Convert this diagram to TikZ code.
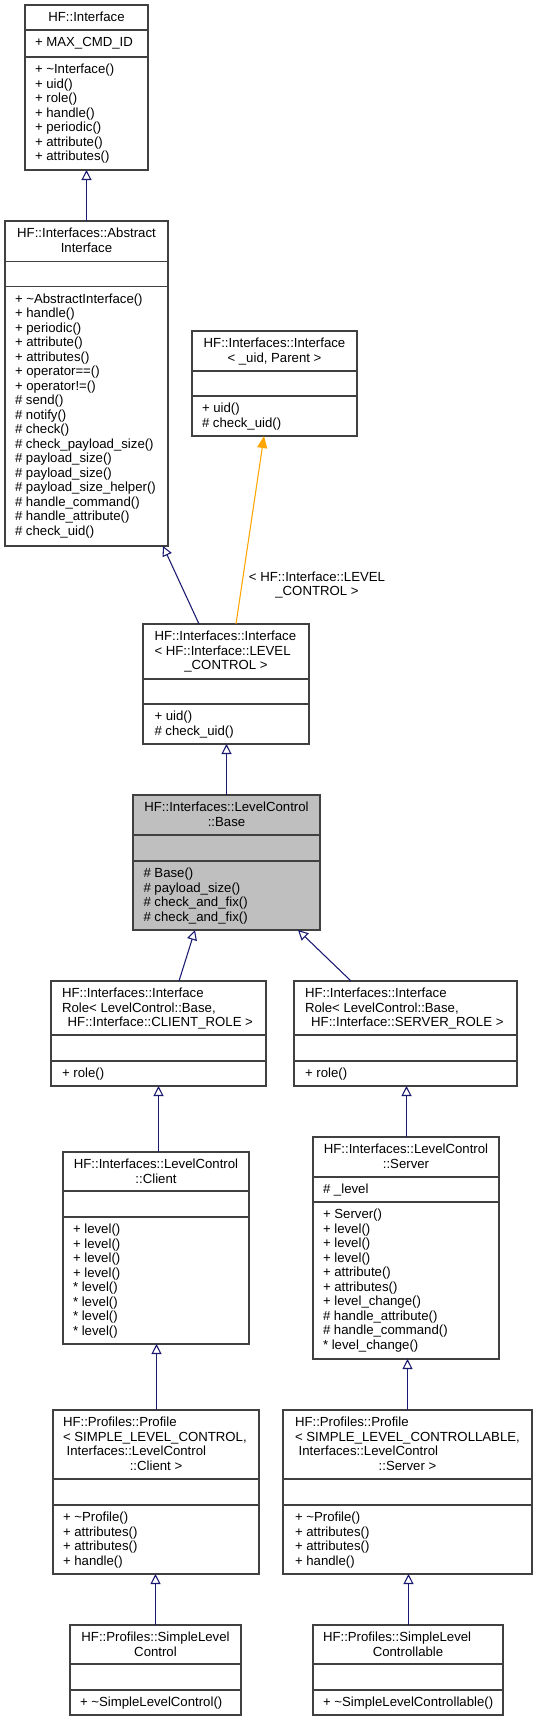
\documentclass[tikz,border=0pt]{standalone}
\usepackage{fontspec}
\setmainfont{Liberation Sans}
\usetikzlibrary{fit,arrows.meta,calc}
\definecolor{navyline}{HTML}{191970}
\definecolor{orangeline}{HTML}{FFA500}
\definecolor{basefill}{HTML}{BFBFBF}
\definecolor{boxline}{HTML}{404040}
\tikzset{
 cls/.style={draw=boxline, line width=1.1pt, fill=white, inner sep=0pt, outer sep=0pt, rectangle},
 grayfill/.style={fill=basefill},
 div/.style={draw=boxline, line width=1.1pt},
 txt/.style={inner sep=0pt, outer sep=0pt, font=\fontsize{9.9pt}{10.9pt}\selectfont, text=black},
 inh/.style={draw=navyline, line width=0.8pt, -{Triangle[length=7.5pt, width=7.5pt, fill=white]}},
 tmplarrow/.style={draw=orangeline, line width=0.8pt, -{Triangle[length=9pt, width=7.5pt]}},
}
\newcommand\Cls[8]{\node[cls,#8,fit={(#2,#4)(#3,#7)}] (#1) {};
 \draw[div] (#2,#5)--(#3,#5) (#2,#6)--(#3,#6);}
\newcommand\Lft[4]{\foreach \t [count=\i from 0] in {#4}{\node[txt,anchor=base west] (#1\i) at (#2,{#3+14.5*\i}) {\t};}}
\newcommand\Ctr[4]{\foreach \t [count=\i from 0] in {#4}{\node[txt,anchor=base] (#1\i) at (#2,{#3+14.5*\i}) {\t};}}
\begin{document}
\begin{tikzpicture}[x=0.75pt,y=-0.75pt]
\useasboundingbox (0,0) rectangle (537,1721);
% HF::Interface
\Cls{iface}{25}{148}{5}{30}{57}{170}{}
\Ctr{ifacet}{86.5}{21.5}{HF::Interface}
\Lft{ifacea}{35}{46.5}{+ MAX\_CMD\_ID}
\Lft{ifacem}{35}{73.5}{+ \textasciitilde Interface(),+ uid(),+ role(),+ handle(),+ periodic(),+ attribute(),+ attributes()}
% AbstractInterface
\Cls{abs}{5}{168}{221}{261.5}{286.5}{546}{}
\Ctr{abst}{86.5}{237.5}{HF::Interfaces::Abstract,Interface}
\Lft{absm}{15}{303}{+ \textasciitilde AbstractInterface(),+ handle(),+ periodic(),+ attribute(),+ attributes(),+ operator==(),+ operator!=(),\# send(),\# notify(),\# check(),\# check\_payload\_size(),\# payload\_size(),\# payload\_size(),\# payload\_size\_helper(),\# handle\_command(),\# handle\_attribute(),\# check\_uid()}
% Interface< _uid, Parent >
\Cls{tmpl}{192}{357}{331}{371}{396}{436}{}
\Ctr{tmplt}{274.5}{347.5}{HF::Interfaces::Interface,{< \_uid, Parent >}}
\Lft{tmplm}{202}{412.5}{+ uid(),\# check\_uid()}
% Interface< LEVEL_CONTROL >
\Cls{lvl}{143}{309}{624}{679}{704}{744}{}
\Lft{lvlt}{154.5}{640.5}{HF::Interfaces::Interface,< HF::Interface::LEVEL}
\Ctr{lvlc}{226}{669.5}{\_CONTROL >}
\Lft{lvlm}{154.5}{720.5}{+ uid(),\# check\_uid()}
% LevelControl::Base
\Cls{base}{133}{320}{795}{835}{861}{930}{grayfill}
\Ctr{baset}{226.5}{811.5}{HF::Interfaces::LevelControl,::Base}
\Lft{basem}{143.5}{877.5}{\# Base(),\# payload\_size(),\# check\_and\_fix(),\# check\_and\_fix()}
% client role
\Cls{crole}{51}{266}{981}{1035}{1061}{1086}{}
\Lft{crolet}{62}{997.5}{HF::Interfaces::Interface,{Role< LevelControl::Base,}}
\Ctr{crolec}{158.5}{1026.5}{\ HF::Interface::CLIENT\_ROLE >}
\Lft{crolem}{62}{1077.5}{+ role()}
% server role
\Cls{srole}{294}{517}{981}{1035}{1061}{1086}{}
\Lft{sroletl}{305}{997.5}{HF::Interfaces::Interface,{Role< LevelControl::Base,}}
\Ctr{srolec}{405.5}{1026.5}{\ HF::Interface::SERVER\_ROLE >}
\Lft{srolem}{305}{1077.5}{+ role()}
% client
\Cls{client}{63}{249}{1152}{1191}{1217}{1344}{}
\Ctr{clientt}{156}{1168.5}{HF::Interfaces::LevelControl,::Client}
\Lft{clientm}{73}{1233.5}{+ level(),+ level(),+ level(),+ level(),* level(),* level(),* level(),* level()}
% server
\Cls{server}{313}{499}{1137}{1177}{1202}{1359}{}
\Ctr{servert}{406}{1153.5}{HF::Interfaces::LevelControl,::Server}
\Lft{servera}{323}{1193.5}{\# \_level}
\Lft{serverm}{323}{1218.5}{+ Server(),+ level(),+ level(),+ level(),+ attribute(),+ attributes(),+ level\_change(),\# handle\_attribute(),\# handle\_command(),* level\_change()}
% profile client
\Cls{pclient}{53}{259}{1410}{1479}{1505}{1574}{}
\Lft{pclientt}{63}{1426.5}{HF::Profiles::Profile,{< SIMPLE\_LEVEL\_CONTROL,},\ Interfaces::LevelControl}
\Ctr{pclientc}{156}{1470}{::Client >}
\Lft{pclientm}{63}{1521.5}{+ \textasciitilde Profile(),+ attributes(),+ attributes(),+ handle()}
% profile server
\Cls{pserver}{283}{532}{1410}{1479}{1505}{1574}{}
\Lft{pservert}{295}{1426.5}{HF::Profiles::Profile,{< SIMPLE\_LEVEL\_CONTROLLABLE,},\ Interfaces::LevelControl}
\Ctr{pserverc}{407.5}{1470}{::Server >}
\Lft{pserverm}{295}{1521.5}{+ \textasciitilde Profile(),+ attributes(),+ attributes(),+ handle()}
% SimpleLevelControl
\Cls{slc}{70}{241}{1625}{1664}{1690}{1715}{}
\Ctr{slct}{155.5}{1641.5}{HF::Profiles::SimpleLevel,Control}
\Lft{slcm}{80}{1706.5}{+ \textasciitilde SimpleLevelControl()}
% SimpleLevelControllable
\Cls{slca}{313}{503}{1625}{1664}{1690}{1715}{}
\Lft{slcat}{323}{1641.5}{HF::Profiles::SimpleLevel}
\Ctr{slcac}{408}{1656}{Controllable}
\Lft{slcam}{323}{1706.5}{+ \textasciitilde SimpleLevelControllable()}
% connectors
\draw[inh] (abs.north) -- (abs.north |- iface.south);
\draw[inh] ($(lvl.north west)+(56,0)$) -- ($(abs.south west)+(158,0)$);
\draw[tmplarrow] ($(lvl.north west)+(93,0)$) -- ($(tmpl.south west)+(72,0)$);
\Ctr{lbl}{317}{581}{{< HF::Interface::LEVEL},\_CONTROL >}
\draw[inh] (base.north) -- (base.north |- lvl.south);
\draw[inh] ($(crole.north west)+(128,0)$) -- ($(base.south west)+(62,0)$);
\draw[inh] ($(srole.north west)+(57,0)$) -- ($(base.south west)+(165,0)$);
\draw[inh] (client.north -| crole.south) -- (crole.south);
\draw[inh] ($(server.north)+(0.5,0)$) coordinate (sv) -- (sv |- srole.south);
\draw[inh] ($(pclient.north)+(0.5,0)$) coordinate (pc) -- (pc |- client.south);
\draw[inh] (pserver.north) -- (pserver.north |- server.south);
\draw[inh] (slc.north) -- (slc.north |- pclient.south);
\draw[inh] ($(slca.north)+(0.5,0)$) coordinate (sa) -- (sa |- pserver.south);
\end{tikzpicture}
\end{document}
